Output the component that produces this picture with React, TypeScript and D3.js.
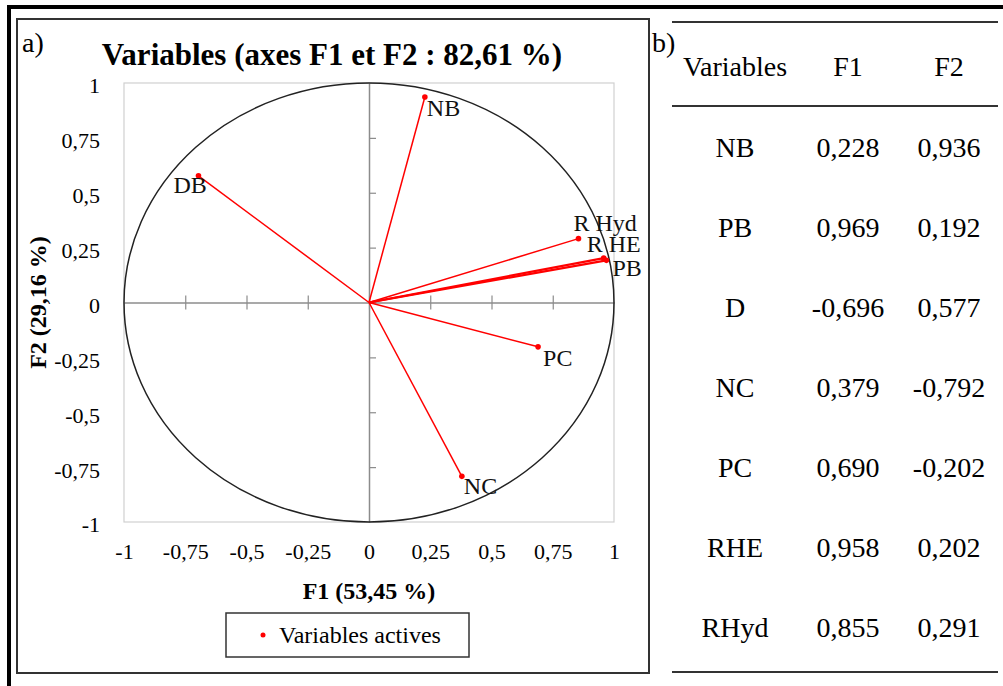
import React, { useEffect, useRef } from "react";
import * as d3 from "d3";

// loadings on the first two factors
const chartLabels = ["NB", "PB", "DB", "NC", "PC", "R HE", "R Hyd"];
const tableLabels = ["NB", "PB", "D", "NC", "PC", "RHE", "RHyd"];
const f1Values = [0.228, 0.969, -0.696, 0.379, 0.69, 0.958, 0.855];
const f2Values = [0.936, 0.192, 0.577, -0.792, -0.202, 0.202, 0.291];
const axisTicks = [-1, -0.75, -0.5, -0.25, 0, 0.25, 0.5, 0.75, 1];

const chartTitle = "Variables (axes F1 et F2 : 82,61 %)";
const xTitle = "F1 (53,45 %)";
const yTitle = "F2 (29,16 %)";
const legendLabel = "Variables actives";
const tableHeader = ["Variables", "F1", "F2"];

// label placement relative to each point (dx, dy of text baseline start)
const labelOffset: Record<string, [number, number]> = {
  NB: [2, 19],
  PB: [6, 16],
  DB: [-25, 17],
  NC: [2, 18],
  PC: [5, 19],
  "R HE": [-17, -6],
  "R Hyd": [-5, -8],
};

const FONT = "'Liberation Serif', 'Times New Roman', serif";

const loc = d3.formatLocale({
  decimal: ",",
  thousands: " ",
  grouping: [3],
  currency: ["", "€"],
  minus: "-",
});
const tickFmt = (v: number) => loc.format("~g")(v);
const valFmt = loc.format(".3f");

function App() {
  const ref = useRef<SVGSVGElement>(null);

  useEffect(() => {
    const svg = d3.select(ref.current);
    svg.selectAll("*").remove();

    // outer frame
    svg.append("rect").attr("x", 9).attr("y", 7).attr("width", 1010).attr("height", 700)
      .attr("fill", "none").attr("stroke", "#000").attr("stroke-width", 4);

    // panel a box
    svg.append("rect").attr("x", 17).attr("y", 19).attr("width", 632).attr("height", 654)
      .attr("fill", "none").attr("stroke", "#333").attr("stroke-width", 2);

    svg.append("text").attr("x", 22).attr("y", 52).text("a)")
      .style("font-family", FONT).style("font-size", "28px");

    const x = d3.scaleLinear().domain([-1, 1]).range([124, 614]);
    const y = d3.scaleLinear().domain([-1, 1]).range([522, 83]);

    svg.append("text").attr("x", 332).attr("y", 65).attr("text-anchor", "middle")
      .text(chartTitle).style("font-family", FONT).style("font-size", "31px").style("font-weight", "bold");

    // plot area
    svg.append("rect").attr("x", x(-1)).attr("y", y(1))
      .attr("width", x(1) - x(-1)).attr("height", y(-1) - y(1))
      .attr("fill", "none").attr("stroke", "#d0d0d0").attr("stroke-width", 1.2);

    // zero axes with ticks
    const gx = svg.append("g").attr("transform", `translate(0,${y(0)})`)
      .call(d3.axisBottom(x).tickValues(axisTicks).tickSizeInner(7).tickSizeOuter(0).tickFormat(() => ""));
    gx.selectAll(".tick line").attr("y1", -7);
    const gy = svg.append("g").attr("transform", `translate(${x(0)},0)`)
      .call(d3.axisLeft(y).tickValues(axisTicks).tickSizeInner(7).tickSizeOuter(0).tickFormat(() => ""));
    gy.selectAll(".tick line").attr("x2", 7);
    [gx, gy].forEach((g) => {
      g.select(".domain").attr("stroke", "#8c8c8c").attr("stroke-width", 1.5);
      g.selectAll(".tick line").attr("stroke", "#8c8c8c").attr("stroke-width", 1.2);
      g.selectAll(".tick").filter((d: any) => Math.abs(d) === 1).remove();
    });

    // tick labels
    const yl = svg.append("g").attr("transform", "translate(100,0)")
      .call(d3.axisLeft(y).tickValues(axisTicks).tickSize(0).tickPadding(0).tickFormat((d: any) => tickFmt(d)));
    yl.select(".domain").remove();
    yl.selectAll("text").attr("dy", "0.45em").style("font-family", FONT).style("font-size", "22px").attr("fill", "#000");

    const xl = svg.append("g").attr("transform", "translate(0,542)")
      .call(d3.axisBottom(x).tickValues(axisTicks).tickSize(0).tickPadding(0).tickFormat((d: any) => tickFmt(d)));
    xl.select(".domain").remove();
    xl.selectAll("text").attr("dy", "0.75em").style("font-family", FONT).style("font-size", "22px").attr("fill", "#000");

    // correlation circle
    svg.append("ellipse").attr("cx", x(0)).attr("cy", y(0))
      .attr("rx", x(1) - x(0)).attr("ry", y(0) - y(1))
      .attr("fill", "none").attr("stroke", "#222").attr("stroke-width", 1.5);

    const pts = chartLabels.map((name, i) => ({ name, f1: f1Values[i], f2: f2Values[i] }));

    svg.append("g").selectAll("line").data(pts).join("line")
      .attr("x1", x(0)).attr("y1", y(0))
      .attr("x2", (d) => x(d.f1)).attr("y2", (d) => y(d.f2))
      .attr("stroke", "#ff0000").attr("stroke-width", (d) => (d.name === "PB" || d.name === "R HE" ? 2.2 : 1.5));

    svg.append("g").selectAll("circle").data(pts).join("circle")
      .attr("cx", (d) => x(d.f1)).attr("cy", (d) => y(d.f2)).attr("r", 2.8)
      .attr("fill", "#ff0000");

    svg.append("g").selectAll("text").data(pts).join("text")
      .attr("x", (d) => x(d.f1) + labelOffset[d.name][0])
      .attr("y", (d) => y(d.f2) + labelOffset[d.name][1])
      .text((d) => d.name)
      .style("font-family", FONT).style("font-size", "24px").attr("fill", "#111");

    // axis titles
    svg.append("text").attr("x", x(0)).attr("y", 599).attr("text-anchor", "middle")
      .text(xTitle).style("font-family", FONT).style("font-size", "24px").style("font-weight", "bold");
    svg.append("text").attr("transform", `translate(46,${y(0)}) rotate(-90)`).attr("text-anchor", "middle")
      .text(yTitle).style("font-family", FONT).style("font-size", "24px").style("font-weight", "bold");

    // legend
    svg.append("rect").attr("x", 226).attr("y", 613).attr("width", 243).attr("height", 44)
      .attr("fill", "none").attr("stroke", "#333").attr("stroke-width", 1.5);
    svg.append("circle").attr("cx", 263).attr("cy", 635).attr("r", 2.5).attr("fill", "#ff0000");
    svg.append("text").attr("x", 279).attr("y", 643).text(legendLabel)
      .style("font-family", FONT).style("font-size", "24px");

    // panel b table
    svg.append("text").attr("x", 652).attr("y", 52).text("b)")
      .style("font-family", FONT).style("font-size", "28px");

    const cols = [735, 848, 949];
    [22, 106, 672].forEach((ly) => {
      svg.append("line").attr("x1", 672).attr("x2", 998).attr("y1", ly).attr("y2", ly)
        .attr("stroke", "#333").attr("stroke-width", 2);
    });
    svg.append("g").selectAll("text").data(tableHeader).join("text")
      .attr("x", (d, i) => cols[i]).attr("y", 76).attr("text-anchor", "middle")
      .text((d) => d).style("font-family", FONT).style("font-size", "28px");

    const row = d3.scalePoint<string>().domain(tableLabels).range([157, 637]);
    const rows = tableLabels.map((name, i) => [name, valFmt(f1Values[i]), valFmt(f2Values[i])]);
    rows.forEach((r, ri) => {
      r.forEach((cell, ci) => {
        svg.append("text").attr("x", cols[ci]).attr("y", row(tableLabels[ri]) as number)
          .attr("text-anchor", "middle").text(cell)
          .style("font-family", FONT).style("font-size", "28px");
      });
    });
  }, []);

  return (
    <svg
      ref={ref}
      width={1003}
      height={686}
      style={{ position: "absolute", left: 0, top: 0, background: "#fff" }}
    />
  );
}

export default App;
